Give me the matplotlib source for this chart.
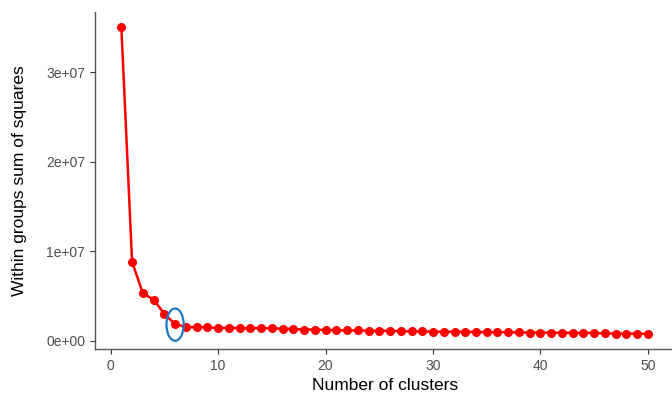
import matplotlib
matplotlib.use('Agg')
import matplotlib.pyplot as plt
from matplotlib.patches import Ellipse

plt.rcParams['font.family'] = ['Liberation Sans', 'DejaVu Sans']

# Data
clusters = list(range(1, 51))
wss = [3.50e7, 8.8e6, 5.3e6, 4.6e6, 3.0e6, 1.85e6, 1.55e6, 1.5e6, 1.5e6, 1.4e6,
       1.45e6, 1.4e6, 1.4e6, 1.4e6, 1.38e6, 1.35e6, 1.3e6, 1.25e6, 1.25e6, 1.2e6,
       1.18e6, 1.15e6, 1.15e6, 1.13e6, 1.12e6, 1.12e6, 1.05e6, 1.05e6, 1.05e6, 1.02e6,
       1.0e6, 1.0e6, 1.0e6, 0.98e6, 0.95e6, 0.95e6, 0.95e6, 0.93e6, 0.92e6, 0.92e6,
       0.9e6, 0.9e6, 0.88e6, 0.88e6, 0.87e6, 0.82e6, 0.8e6, 0.8e6, 0.78e6, 0.78e6]
elbow_k = 6

fig = plt.figure(figsize=(6.72, 3.94), dpi=100)
ax = fig.add_axes([0.1414, 0.114, 0.862, 0.8555])

ax.plot(clusters, wss, color='red', linewidth=1.8, marker='o', markersize=5.5)

# highlight the elbow
ax.add_patch(Ellipse((elbow_k, wss[elbow_k - 1] - 0.05e6), width=1.6, height=3.6e6,
                     fill=False, edgecolor='#1f78c1', linewidth=1.6, zorder=5))

ax.set_xlim(-1.45, 52.45)
ax.set_ylim(-0.93e6, 3.67e7)
ax.set_xticks([0, 10, 20, 30, 40, 50])
ax.set_yticks([0, 1e7, 2e7, 3e7])
ax.set_yticklabels(['0e+00', '1e+07', '2e+07', '3e+07'])

ax.set_xlabel('Number of clusters', fontsize=12.5, color='black')
ax.set_ylabel('Within groups sum of squares', fontsize=12.5, color='black')
ax.yaxis.set_label_coords(-0.117, 0.5)

for side in ['top', 'right']:
    ax.spines[side].set_visible(False)
for side in ['left', 'bottom']:
    ax.spines[side].set_color('#555555')
    ax.spines[side].set_linewidth(1.0)
ax.tick_params(colors='#333333', labelsize=10, length=3.5, width=0.8, labelcolor='#4d4d4d')

fig.savefig('out.png', dpi=100)
